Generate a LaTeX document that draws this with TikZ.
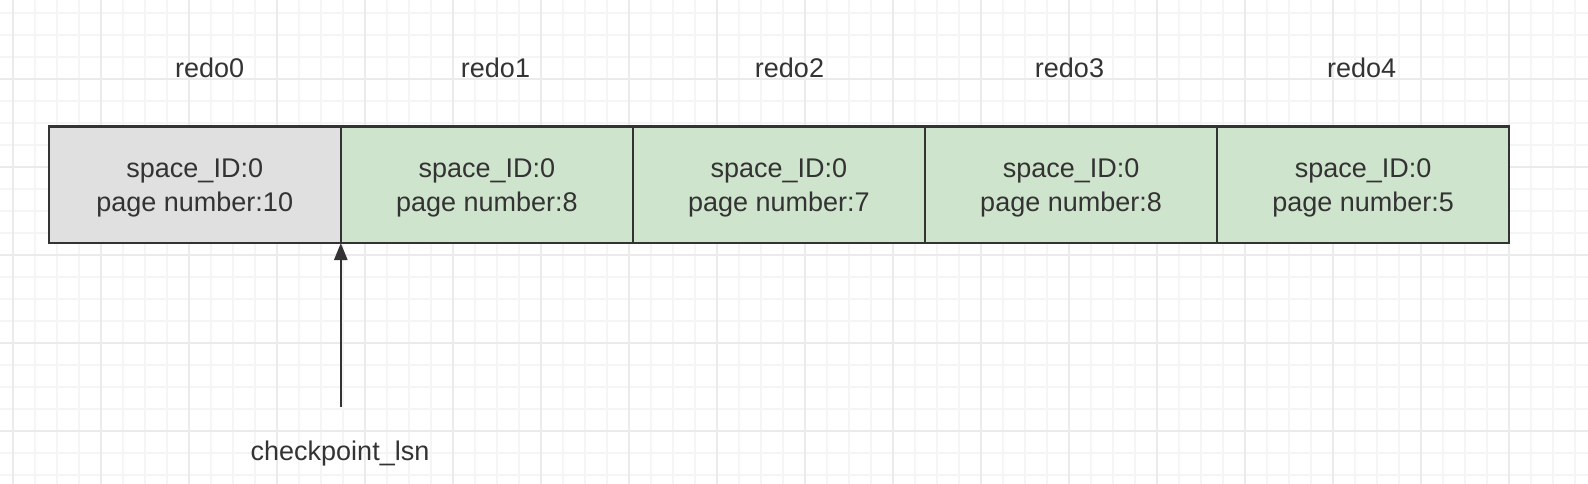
\documentclass[tikz,border=0pt]{standalone}
\usepackage{fontspec}
\setmainfont{Liberation Sans}
\usetikzlibrary{arrows.meta}

\definecolor{gridlight}{RGB}{245,245,245}
\definecolor{gridmajor}{RGB}{235,235,235}
\definecolor{edgegray}{RGB}{51,51,51}
\definecolor{textgray}{RGB}{51,51,51}
\definecolor{oldfill}{RGB}{224,224,224}
\definecolor{newfill}{RGB}{207,228,204}

\begin{document}
\begin{tikzpicture}[x=1pt,y=1pt,yscale=-1,xscale=1,
  txt/.style={text=textgray,font=\fontsize{27}{34}\selectfont},
  cell/.style={txt,draw=edgegray,line width=2.4pt,minimum width=292.1pt,minimum height=116.3pt,inner sep=0pt,outer sep=0pt,align=center,text depth=0pt},
  head/.style={txt,anchor=base,inner sep=0pt}]
%set diagram size to 1588 x 484
\useasboundingbox (0,0) rectangle (1588,484);
\fill[white] (0,0) rectangle (1588,484);

%Shape: Grid
\begin{scope}
\clip (0,0) rectangle (1588,484);
\draw[gridlight,line width=1.3pt,shift={(13,13)},step=22] (-22,-22) grid (1600,490);
\draw[gridmajor,line width=1.5pt,shift={(13,-9)},step=88] (-88,-88) grid (1600,510);
\end{scope}

%Shape: Rectangle
\node[cell,fill=oldfill] (r0) at (194.75,184.85) {space\_ID:0\\page number:10};
%Shape: Rectangle
\node[cell,fill=newfill] (r1) at (486.85,184.85) {space\_ID:0\\page number:8};
%Shape: Rectangle
\node[cell,fill=newfill] (r2) at (778.95,184.85) {space\_ID:0\\page number:7};
%Shape: Rectangle
\node[cell,fill=newfill] (r3) at (1071.05,184.85) {space\_ID:0\\page number:8};
%Shape: Rectangle
\node[cell,fill=newfill] (r4) at (1363.15,184.85) {space\_ID:0\\page number:5};

% Text Node
\node[head] (h0) at (209.6,77.7) {redo0};
% Text Node
\node[head] (h1) at (495.5,77.7) {redo1};
% Text Node
\node[head] (h2) at (789.5,77.7) {redo2};
% Text Node
\node[head] (h3) at (1069.5,77.7) {redo3};
% Text Node
\node[head] (h4) at (1361.7,77.7) {redo4};

% Text Node
\node[head] (ckpt) at (340,460.7) {checkpoint\_lsn};
\coordinate (tail) at (340.8,406.7);

%Straight Lines
\draw[edgegray,line width=2.6pt,-{Triangle[length=17pt,width=13pt]}] (tail) -- (r0.south east);

\end{tikzpicture}
\end{document}
